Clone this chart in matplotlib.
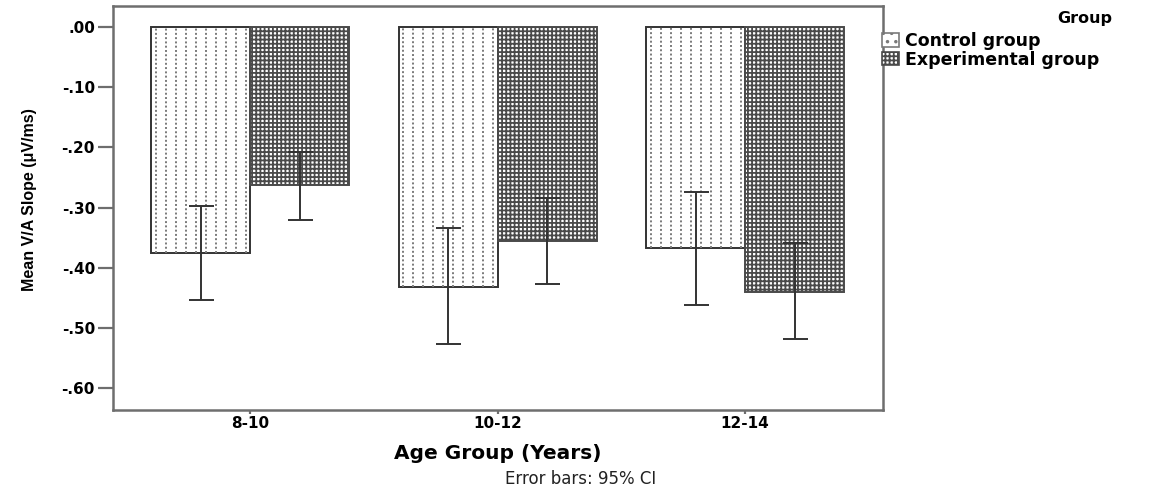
import matplotlib
matplotlib.use("Agg")
import matplotlib.pyplot as plt
from matplotlib.patches import Patch
import numpy as np

plt.rcParams['font.family'] = ['DejaVu Sans']
plt.rcParams['hatch.linewidth'] = 1.3

# Mean V/A slope per age group, with 95% CI bounds
age_groups = ['8-10', '10-12', '12-14']
control_mean = [-0.375, -0.432, -0.367]
control_ci_hi = [-0.297, -0.334, -0.274]
control_ci_lo = [-0.453, -0.526, -0.462]
exp_mean = [-0.262, -0.355, -0.440]
exp_ci_hi = [-0.208, -0.284, -0.359]
exp_ci_lo = [-0.320, -0.427, -0.518]
yticks = [0.0, -0.1, -0.2, -0.3, -0.4, -0.5, -0.6]
yticklabels = ['.00', '-.10', '-.20', '-.30', '-.40', '-.50', '-.60']

fig = plt.figure(figsize=(11.61, 4.94), dpi=100)
ax = fig.add_axes([113/1161, 1 - 410/494, 770/1161, 404/494])

x = np.arange(len(age_groups))
w = 0.4
frame = '#6e6e6e'
ink = '#333333'
grid_ink = '#4a4a4a'

b1 = ax.bar(x - w/2, control_mean, w, color='white', edgecolor=ink,
            linewidth=1.4, label='Control group', zorder=2)
b2 = ax.bar(x + w/2, exp_mean, w, color='white', edgecolor=grid_ink,
            hatch='++++', linewidth=1.4, label='Experimental group', zorder=2)

# dotted vertical columns inside the control bars
for p in b1.patches:
    x0, wd = p.get_x(), p.get_width()
    cols = np.arange(x0 + 0.018, x0 + wd - 0.005, 0.0405)
    lc = ax.vlines(cols, p.get_y() + p.get_height(), p.get_y(), colors='#7a7a7a',
                   linewidth=1.4, linestyles=(0, (1.0, 1.2)), zorder=2.5)
    lc.set_clip_path(p)

for xs, m, hi, lo in [(x - w/2, control_mean, control_ci_hi, control_ci_lo),
                      (x + w/2, exp_mean, exp_ci_hi, exp_ci_lo)]:
    m = np.array(m)
    ax.errorbar(xs, m, yerr=[m - np.array(lo), np.array(hi) - m], fmt='none',
                ecolor=ink, elinewidth=1.4, capsize=9, capthick=1.4, zorder=3)

ax.set_xlim(-0.555, 2.557)
ax.set_ylim(-0.636, 0.035)
ax.set_yticks(yticks)
ax.set_yticklabels(yticklabels, fontsize=11, fontweight='bold')
ax.set_xticks(x)
ax.set_xticklabels(age_groups, fontsize=11, fontweight='bold')
ax.tick_params(axis='y', direction='out', length=11, width=1.6, color=frame, pad=2)
ax.tick_params(axis='x', direction='out', length=3, width=1.6, color=frame, pad=1)
for s in ax.spines.values():
    s.set_color(frame)
    s.set_linewidth(1.8)

ax.set_xlabel('Age Group (Years)', fontsize=14.5, fontweight='bold', labelpad=10)
ax.set_ylabel('Mean V/A Slope (μV/ms)', fontsize=11.5, fontweight='bold',
              family=['Liberation Sans'])
ax.yaxis.set_label_coords(-0.099, 0.52)

fig.text(581/1161, 1 - 479/494, 'Error bars: 95% CI', ha='center', va='center',
         fontsize=12, color='#222222')

fig.text(1085/1161, 1 - 18/494, 'Group', ha='center', va='center',
         fontsize=11.5, fontweight='bold')
h1 = Patch(facecolor='white', edgecolor='#7a7a7a', hatch='..', linewidth=1.2)
h2 = Patch(facecolor='white', edgecolor=grid_ink, hatch='++++', linewidth=1.2)
leg = fig.legend(handles=[h1, h2], labels=['Control group', 'Experimental group'],
                 loc='upper left', bbox_to_anchor=(882/1161, 1 - 32/494),
                 frameon=False, handlelength=1.0, handleheight=0.8,
                 handletextpad=0.3, labelspacing=0.05, borderaxespad=0,
                 borderpad=0, prop={'weight': 'bold', 'size': 12.5})

fig.savefig('out.png', dpi=100)
